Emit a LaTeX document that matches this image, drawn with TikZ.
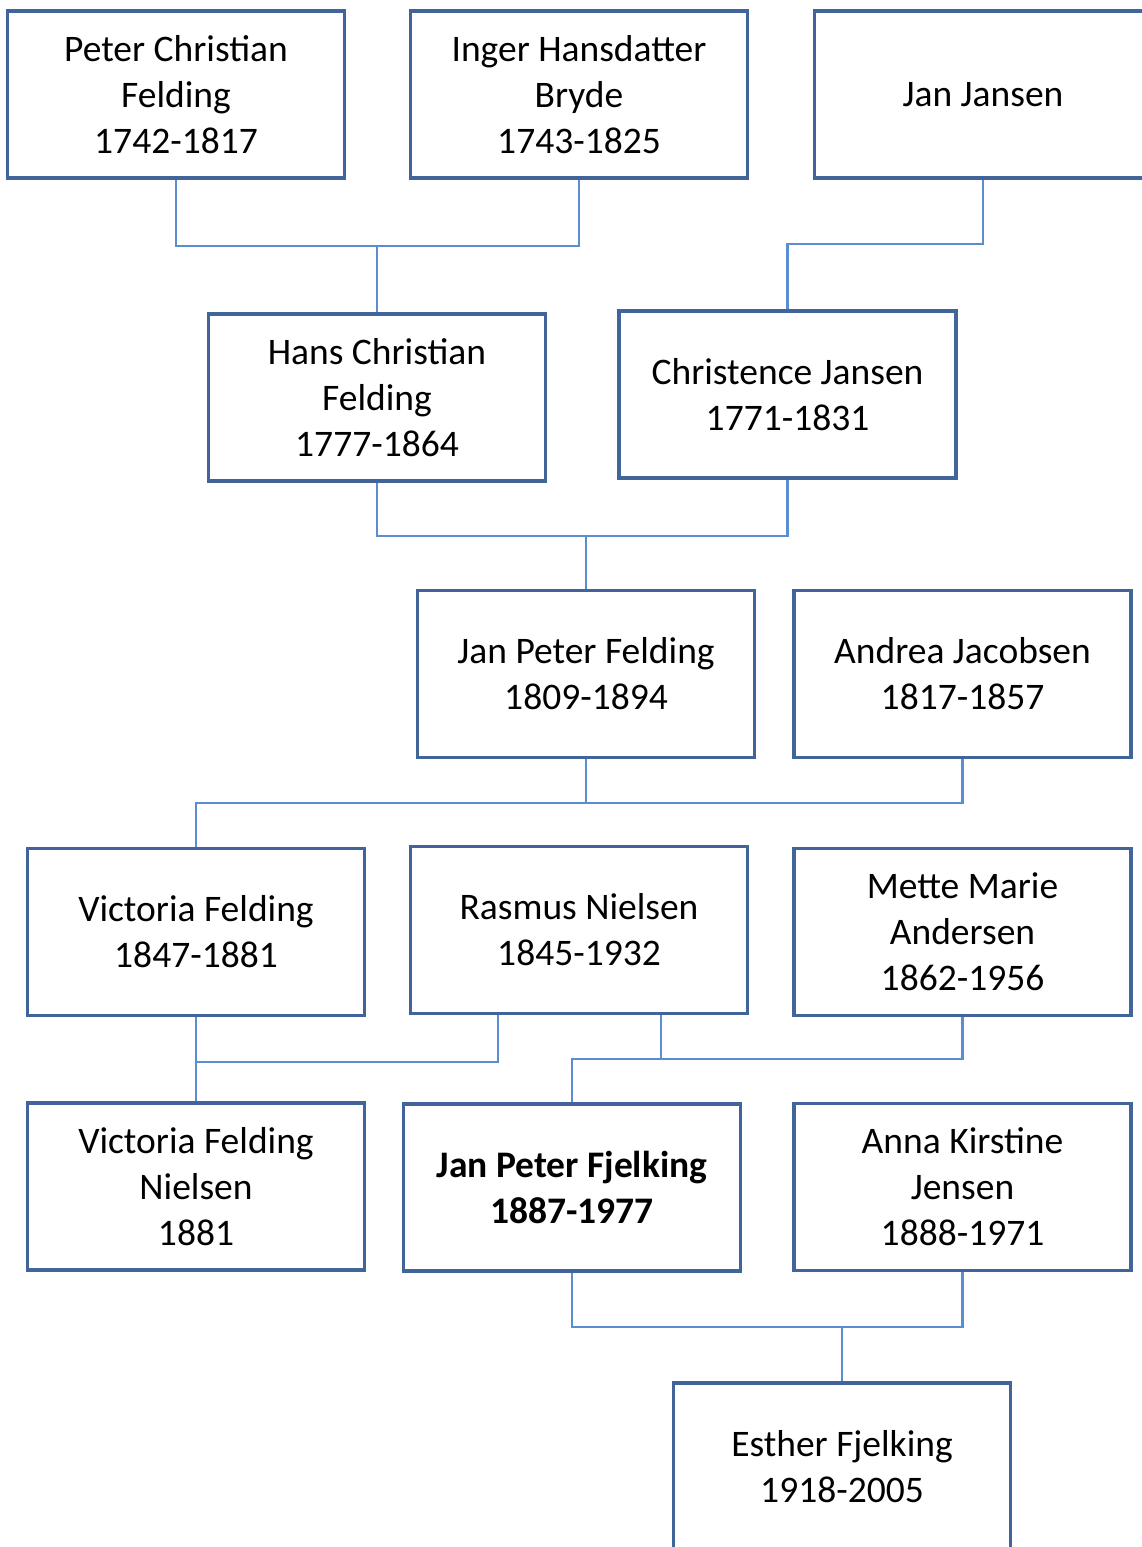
\documentclass[tikz,border=0pt]{standalone}
\usepackage{fontspec}
\setmainfont{Carlito}
\usetikzlibrary{backgrounds}
\definecolor{boxc}{RGB}{65,101,155}
\definecolor{linec}{RGB}{91,142,208}
\begin{document}
\begin{tikzpicture}[x=1pt,y=-1pt,
  person/.style={draw=boxc,line width=3.5pt,minimum width=337pt,minimum height=167pt,
    align=center,inner sep=0pt,font=\fontsize{37.5}{46}\selectfont,text=black},
  conn/.style={draw=linec,line width=2.8pt}]
\useasboundingbox (0,0) rectangle (1141,1547);
\node[person] (p1) at (176,94.5) {Peter Christian\\Felding\\1742-1817};
\node[person] (p2) at (579,94.5) {Inger Hansdatter\\Bryde\\1743-1825};
\node[person] (p3) at (983,94.5) {Jan Jansen};
\node[person] (p4) at (377,397.5) {Hans Christian\\Felding\\1777-1864};
\node[person] (p5) at (787.5,394.5) {Christence Jansen\\1771-1831};
\node[person] (p6) at (586,674) {Jan Peter Felding\\1809-1894};
\node[person] (p7) at (962.5,674) {Andrea Jacobsen\\1817-1857};
\node[person] (p8) at (196,932) {Victoria Felding\\1847-1881};
\node[person] (p9) at (579,930) {Rasmus Nielsen\\1845-1932};
\node[person] (p10) at (962.5,932) {Mette Marie\\Andersen\\1862-1956};
\node[person] (p11) at (196,1186.5) {Victoria Felding\\Nielsen\\1881};
\node[person,font=\fontsize{37.5}{46}\selectfont\bfseries] (p12) at (572,1187.5) {Jan Peter Fjelking\\1887-1977};
\node[person] (p13) at (962.5,1187) {Anna Kirstine\\Jensen\\1888-1971};
\node[person] (p14) at (842,1466.5) {Esther Fjelking\\1918-2005};
\coordinate (j1) at (377,246);
\coordinate (j2) at (787.5,244);
\coordinate (j3) at (586,536);
\coordinate (j4) at (586,803);
\coordinate (j5) at (196,1062);
\coordinate (j6) at (661,1059);
\coordinate (j7) at (842,1327);
\begin{pgfonlayer}{background}
\fill[white] (0,0) rectangle (1141,1547);
\draw[conn] (p1.south) |- (j1) -| (p2.south);
\draw[conn] (j1) -- (p4.north);
\draw[conn] (p3.south) |- (j2) -- (p5.north);
\draw[conn] (p4.south) |- (j3) -| (p5.south);
\draw[conn] (j3) -- (p6.north);
\draw[conn] (p6.south) -- (j4);
\draw[conn] (p8.north) |- (j4) -| (p7.south);
\draw[conn] (p8.south) -- (p11.north);
\draw[conn] (j5) -| ([xshift=-81pt]p9.south);
\draw[conn] ([xshift=82pt]p9.south) -- (j6);
\draw[conn] (p12.north) |- (j6) -| (p10.south);
\draw[conn] (p12.south) |- (j7) -| (p13.south);
\draw[conn] (j7) -- (p14.north);
\end{pgfonlayer}
\end{tikzpicture}
\end{document}
